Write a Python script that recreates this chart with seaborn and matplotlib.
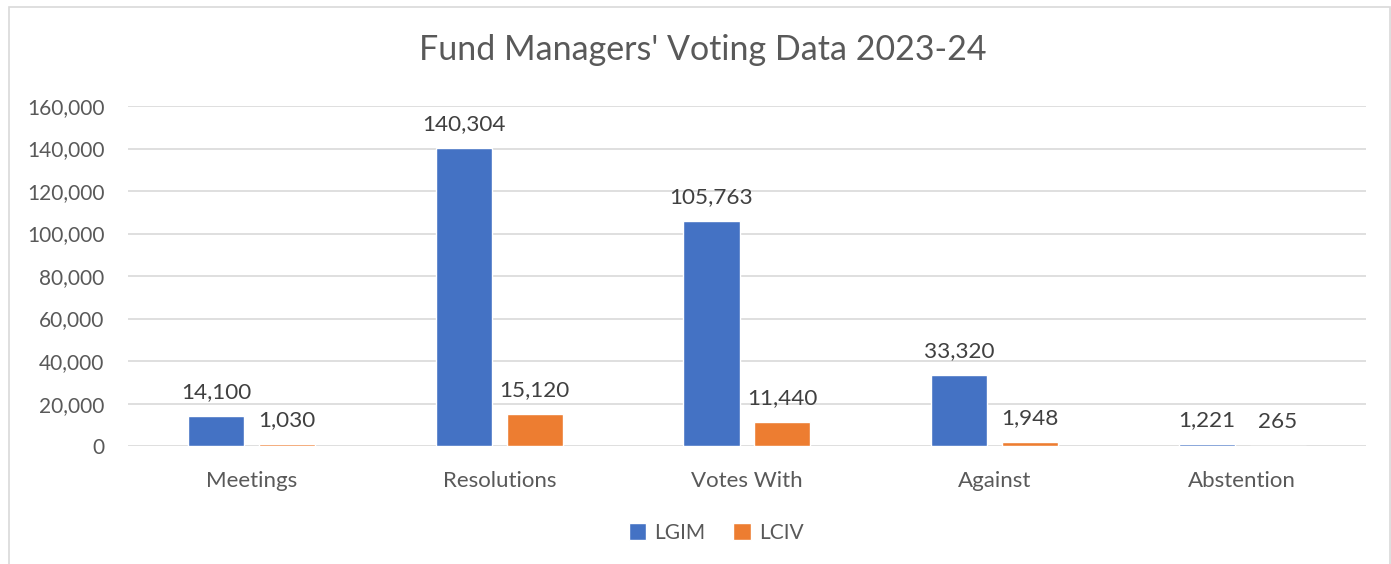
import pandas as pd
import numpy as np
import matplotlib.pyplot as plt
import seaborn as sns
from matplotlib.patches import Rectangle
from matplotlib.ticker import FuncFormatter

# data
categories = ["Meetings", "Resolutions", "Votes With", "Against", "Abstention"]
lgim = [14100, 140304, 105763, 33320, 1221]
lciv = [1030, 15120, 11440, 1948, 265]
series = ["LGIM", "LCIV"]
colors = ["#4472C4", "#ED7D31"]

df = pd.DataFrame({
    "category": categories * 2,
    "fund": ["LGIM"] * len(categories) + ["LCIV"] * len(categories),
    "votes": lgim + lciv,
})

sns.set_style("white")
plt.rcParams['font.family'] = ['Lato', 'DejaVu Sans']

fig = plt.figure(figsize=(13.91, 5.64), dpi=100)
ax = fig.add_axes([0.092, 0.209, 0.890, 0.603])

# outer chart border
fig.patches.append(Rectangle((9 / 1391, -0.01), (1390 - 9) / 1391, 1 - 7 / 564 + 0.01,
                             transform=fig.transFigure, fill=False,
                             edgecolor="#D9D9D9", linewidth=1.2))

sns.barplot(data=df, x="category", y="votes", hue="fund", hue_order=series,
            palette=colors, width=0.573, gap=0.21, saturation=1, ax=ax,
            legend=True)

ax.set_ylim(0, 160000)
ax.set_yticks(np.arange(0, 160001, 20000))
ax.yaxis.set_major_formatter(FuncFormatter(lambda v, p: f"{int(v):,}"))
ax.grid(axis="y", color="#D9D9D9", linewidth=1.2)
ax.set_axisbelow(True)
for s in ax.spines.values():
    s.set_visible(False)
ax.set_xlabel("")
ax.set_ylabel("")
ax.tick_params(axis="y", length=0, labelsize=15, labelcolor="#595959", pad=17)
ax.tick_params(axis="x", length=0, labelsize=16, labelcolor="#595959", pad=18)

for cont in ax.containers:
    ax.bar_label(cont, labels=[f"{int(v):,}" for v in cont.datavalues],
                 padding=10, fontsize=16.2, color="#404040")

ax.legend(loc="upper center", bbox_to_anchor=(0.475, -0.17), ncol=2, frameon=False,
          fontsize=15, labelcolor="#595959", handlelength=0.85, handleheight=0.85,
          handletextpad=0.4, columnspacing=1.3)

fig.text(0.505, 0.911, "Fund Managers' Voting Data 2023-24", ha="center", va="center",
         fontsize=24.5, color="#595959")

fig.savefig("out.png", dpi=100)
